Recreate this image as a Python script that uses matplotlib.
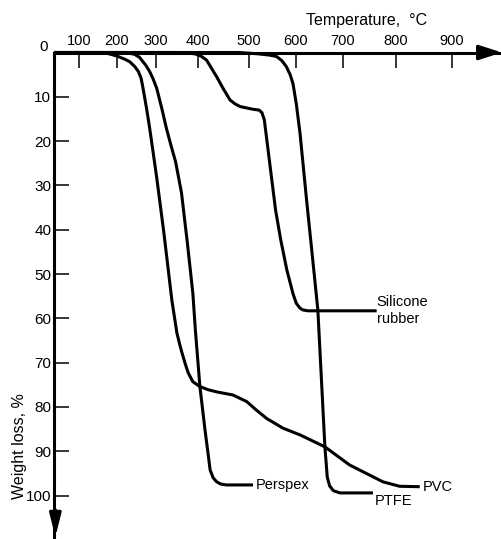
import numpy as np
import matplotlib
matplotlib.use("Agg")
import matplotlib.pyplot as plt
from matplotlib.scale import FuncScale

plt.rcParams['font.family'] = ['Liberation Sans', 'DejaVu Sans']

# ---- data (temperature in deg C, weight loss in %) ----
pvc_T = [0, 150, 175, 200, 220, 233, 246, 255, 262, 267, 276, 284, 292, 302, 319, 338, 350, 356, 361,
         370, 377, 388, 404, 420, 437, 469, 496, 516, 538, 573, 609, 662, 713, 776, 807, 843]
pvc_W = [0, 0, 0.2, 0.8, 1.5, 2.1, 3.2, 4.3, 5.8, 8.1, 12.6, 17.1, 22.0, 28.3, 40.7, 55.9, 63.3, 65.6, 67.4,
         70.3, 72.3, 74.3, 75.4, 76.1, 76.6, 77.3, 78.8, 80.7, 82.6, 84.8, 86.3, 89, 93.1, 96.9, 97.9, 98]

perspex_T = [0, 222, 245, 258, 267, 275, 284, 293, 302, 314, 325, 336, 347, 361, 375, 388, 394, 404, 414,
             420, 424, 430, 437, 445, 456, 509]
perspex_W = [0, 0, 0.4, 1.1, 2.1, 3.0, 4.3, 6.0, 8.1, 12.6, 17.1, 21.0, 24.7, 31.7, 43, 54.3, 62.6, 75.4, 85.2,
             90.5, 94.2, 96.0, 96.9, 97.4, 97.6, 97.6]

silicone_T = [0, 360, 393, 406, 417, 437, 450, 463, 473, 483, 508, 522, 528, 533, 541, 549, 557, 568, 581,
              594, 601, 609, 615, 626, 764]
silicone_W = [0, 0, 0.3, 0.8, 1.7, 5.5, 8.2, 10.7, 11.6, 12.2, 12.8, 13.0, 13.6, 15.2, 22.0, 28.8, 35.6, 42.3,
              49.1, 54.4, 56.6, 57.7, 58.1, 58.3, 58.3]

ptfe_T = [0, 480, 520, 545, 559, 570, 580, 588, 594, 601, 609, 623, 634, 647, 655, 662, 667, 672, 680, 694, 757]
ptfe_W = [0, 0, 0.3, 0.6, 0.9, 1.8, 3.2, 5.0, 7, 11.5, 18.2, 33.3, 44.6, 58.1, 74.6, 89, 95.8, 97.8, 98.9,
          99.4, 99.4]

series_names = ['PVC', 'Perspex', 'Silicone\nrubber', 'PTFE']

x_ticks = [100, 200, 300, 400, 500, 600, 700, 800, 900]
y_ticks = [10, 20, 30, 40, 50, 60, 70, 80, 90, 100]

# non-uniform temperature axis of the original drawing (temperature -> drawn offset)
scale_T = [0, 100, 200, 300, 400, 500, 600, 700, 800, 900, 1000]
scale_pos = [0, 25, 63, 102, 144, 195, 242, 289, 342, 398, 454]


def fwd(t):
    return np.interp(t, scale_T, scale_pos, left=-1e3, right=1e3)


def inv(p):
    return np.interp(p, scale_pos, scale_T)


W, H = 502, 539
fig = plt.figure(figsize=(W / 100, H / 100), dpi=100)
ax = fig.add_axes([54 / W, 0, 448 / W, (H - 52.5) / H])
ax.set_xscale(FuncScale(ax, (fwd, inv)))
ax.set_xlim(0, 990)
ax.set_ylim(109.8, 0)

lw = 2.2
for T, Wl in [(pvc_T, pvc_W), (perspex_T, perspex_W), (silicone_T, silicone_W), (ptfe_T, ptfe_W)]:
    ax.plot(T, Wl, color='black', lw=lw, solid_joinstyle='round', solid_capstyle='butt', clip_on=False)

fs = 10.5
# curve labels
ax.annotate(series_names[0], (pvc_T[-1], pvc_W[-1]), xytext=(2, 0), textcoords='offset points',
            ha='left', va='center', fontsize=fs)
ax.annotate(series_names[1], (perspex_T[-1], perspex_W[-1]), xytext=(2, 0), textcoords='offset points',
            ha='left', va='center', fontsize=fs)
ax.annotate(series_names[2], (silicone_T[-1], silicone_W[-1]), xytext=(0, 0), textcoords='offset points',
            ha='left', va='center', fontsize=fs, linespacing=1.25)
ax.annotate(series_names[3], (ptfe_T[-1], ptfe_W[-1]), xytext=(1, -5.5), textcoords='offset points',
            ha='left', va='center', fontsize=fs)

# axes styling
for s in ['right', 'bottom']:
    ax.spines[s].set_visible(False)
for s in ['top', 'left']:
    ax.spines[s].set_linewidth(lw)
ax.xaxis.tick_top()
ax.set_xticks(x_ticks)
ax.set_xticklabels([str(v) for v in x_ticks])
ax.set_yticks(y_ticks)
ax.set_yticklabels([str(v) for v in y_ticks])
ax.tick_params(axis='x', direction='in', length=10.5, width=1.1, pad=3.0, labelsize=fs)
ax.tick_params(axis='y', direction='in', length=10.5, width=1.1, pad=2.0, labelsize=11)
ax.minorticks_off()

# arrowheads
ax.annotate('', xy=(1.0, 1.0), xytext=(0.955, 1.0), xycoords='axes fraction',
            arrowprops=dict(arrowstyle='-|>,head_length=1.4,head_width=0.45', color='black',
                            lw=lw, shrinkA=0, shrinkB=0))
ax.annotate('', xy=(0.003, 0.004), xytext=(0.003, 0.06), xycoords='axes fraction',
            arrowprops=dict(arrowstyle='-|>,head_length=1.4,head_width=0.35', color='black',
                            lw=lw, shrinkA=0, shrinkB=0))

fig.text(44 / W, 1 - 47 / H, '0', ha='center', va='center', fontsize=11)
fig.text(367 / W, 1 - 20 / H, 'Temperature,  °C', ha='center', va='center', fontsize=11.5)
fig.text(20 / W, 1 - 446 / H, 'Weight loss, %', ha='center', va='center', rotation=90, fontsize=11.5)

fig.savefig('out.png', dpi=100)
